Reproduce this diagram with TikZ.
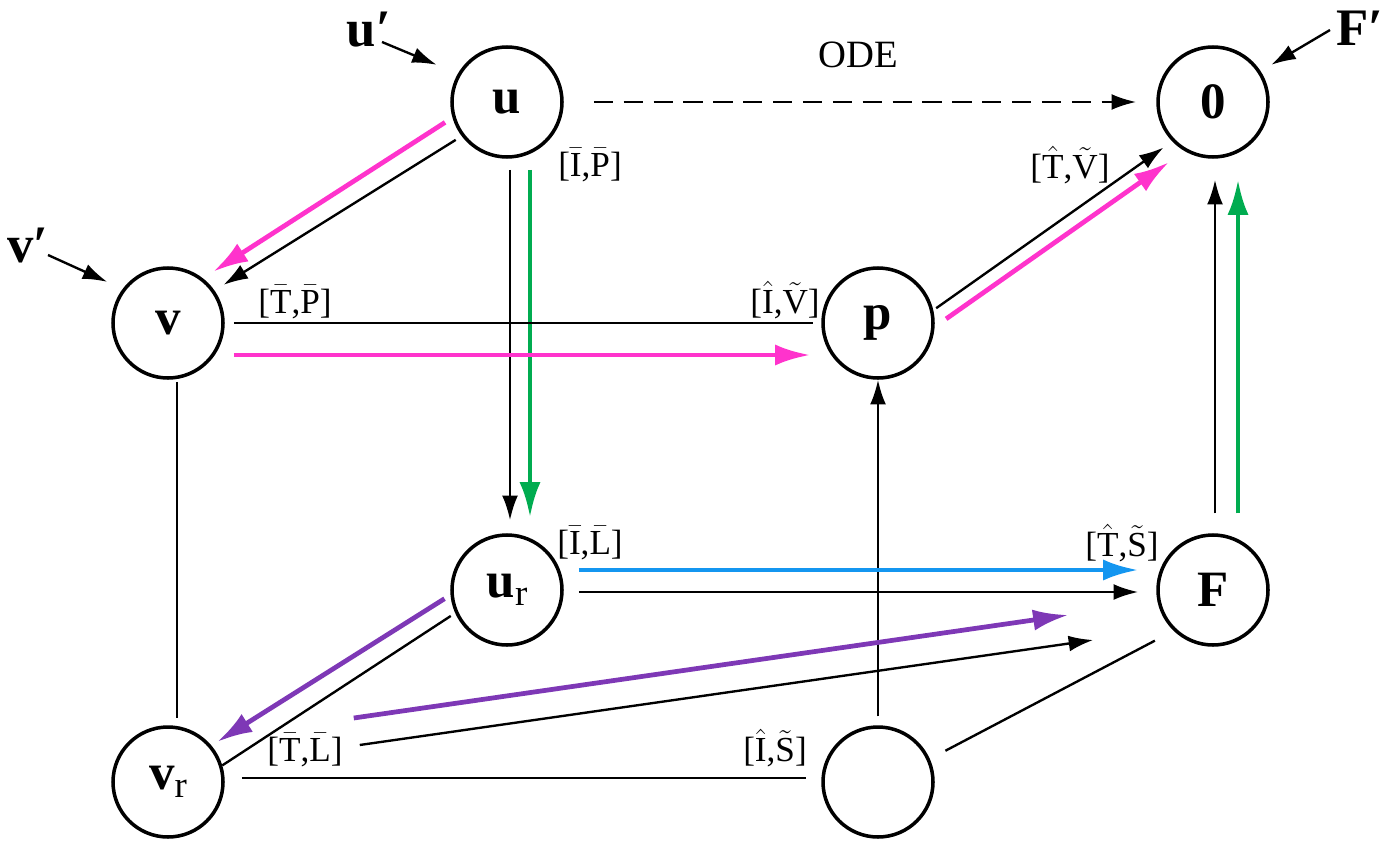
\documentclass[tikz,border=0pt]{standalone}
\usepackage{fontspec}
\setmainfont{Liberation Serif}
\usetikzlibrary{arrows.meta}

\definecolor{pinkarr}{RGB}{255,51,204}
\definecolor{greenarr}{RGB}{0,172,80}
\definecolor{bluearr}{RGB}{20,150,240}
\definecolor{purplearr}{RGB}{126,56,182}

\newcommand{\ab}[1]{$\bar{\mathrm{#1}}$}
\newcommand{\ah}[1]{$\hat{\mathrm{#1}}$}
\newcommand{\at}[1]{$\tilde{\mathrm{#1}}$}
\newcommand{\subidx}[1]{\raisebox{-0.35ex}{\mdseries\fontsize{21}{23}\selectfont #1}}

\begin{document}
\begin{tikzpicture}[
    state/.style={circle, draw, line width=2pt, minimum size=2.2cm, inner sep=0pt,
        font=\fontsize{29}{31}\selectfont\bfseries},
    link/.style={line width=1.35pt},
    blackarr/.style={link, -{Latex[length=14pt,width=9pt]}},
    colarr/.style={line width=2.7pt, -{Latex[length=20pt,width=12pt]}},
    lab/.style={font=\fontsize{20}{22}\selectfont},
    primelab/.style={font=\fontsize{30}{32}\selectfont\bfseries}
]
        \useasboundingbox (0,0) rectangle (27.72,-16.86);

        % Nodes of the cube
        \node[state] (u) at (10.14,-2.04) {u};
        \node[state] (zero) at (24.26,-2.04) {0};
        \node[state] (v) at (3.36,-6.46) {v};
        \node[state] (p) at (17.56,-6.46) {p};
        \node[state] (ur) at (10.14,-11.8) {u\subidx{r}};
        \node[state] (F) at (24.26,-11.8) {F};
        \node[state] (vr) at (3.36,-15.64) {v\subidx{r}};
        \node[state] (sw) at (17.56,-15.64) {};

        % Primed inputs
        \node[primelab] (uprime) at (7.38,-0.6) {u′};
        \node[primelab] (Fprime) at (27.2,-0.56) {F′};
        \node[primelab] (vprime) at (0.56,-4.9) {v′};
        \draw[blackarr, shorten >=13pt] ([shift={(0.26,-0.24)}]uprime.center) -- (u.150);
        \draw[blackarr, shorten >=7pt] ([shift={(-0.6,-0.04)}]Fprime.center) -- (zero.33);
        \draw[blackarr, shorten >=9.6pt] ([shift={(0.4,-0.2)}]vprime.center) -- (v.143);

        % ODE
        \draw[blackarr, dash pattern=on 11pt off 6pt] ([xshift=0.6cm]u.east) -- ([xshift=-0.4cm]zero.west);
        \node[lab, font=\fontsize{22}{24}\selectfont] (ode) at (17.16,-1.1) {ODE};

        % u to v
        \draw[blackarr, shorten <=4pt, shorten >=6pt] (u.217) -- (v.35);
        \draw[colarr, pinkarr, shorten <=5pt, shorten >=7pt] (u.196) -- (v.52);

        % u to u_r
        \draw[blackarr] ([shift={(0.06,-0.22)}]u.south) -- ([shift={(0.06,0.26)}]ur.north);
        \draw[colarr, greenarr] ([shift={(0.46,-0.22)}]u.south) -- ([shift={(0.46,0.32)}]ur.north);
        \node[lab] (lu) at (11.8,-3.3) {[\ab{I},\ab{P}]};

        % v to p
        \draw[link] ([xshift=0.18cm]v.east) -- ([xshift=-0.16cm]p.west);
        \draw[colarr, pinkarr] ([shift={(0.18,-0.64)}]v.east) -- ([shift={(-0.22,-0.64)}]p.west);
        \node[lab] (lv) at (5.9,-6.04) {[\ab{T},\ab{P}]};
        \node[lab] (lp) at (15.7,-6.0) {[\ah{I},\at{V}]};

        % p to 0
        \draw[blackarr, shorten <=2pt, shorten >=6pt] (p.13) -- (zero.224);
        \draw[colarr, pinkarr, shorten <=8pt, shorten >=11pt] (p.-4) -- (zero.240);
        \node[lab] (lzero) at (21.4,-3.3) {[\ah{T},\at{V}]};

        % v to v_r
        \draw[link] ([shift={(0.18,-0.04)}]v.south) -- ([shift={(0.18,0.14)}]vr.north);

        % F to 0
        \draw[blackarr] ([shift={(0.04,0.4)}]F.north) -- ([shift={(0.04,-0.42)}]zero.south);
        \draw[colarr, greenarr] ([shift={(0.5,0.4)}]F.north) -- ([shift={(0.5,-0.42)}]zero.south);

        % bottom right to p
        \draw[blackarr] ([yshift=0.18cm]sw.north) -- (p.south);

        % u_r to F
        \draw[blackarr] ([shift={(0.3,-0.04)}]ur.east) -- ([shift={(-0.36,-0.04)}]F.west);
        \draw[colarr, bluearr] ([shift={(0.3,0.4)}]ur.east) -- ([shift={(-0.36,0.4)}]F.west);
        \node[lab] (lur) at (11.8,-10.86) {[\ab{I},\ab{L}]};
        \node[lab] (lF) at (22.44,-10.86) {[\ah{T},\at{S}]};

        % u_r to v_r
        \draw[link, shorten <=3pt] (ur.204) -- (vr.17.5);
        \draw[colarr, purplearr, shorten <=4pt, shorten >=4pt] (ur.185) -- (vr.40);

        % v_r to F
        \draw[blackarr] ([shift={(2.7,0.74)}]vr.east) -- ([shift={(-1.26,-1.0)}]F.west);
        \draw[colarr, purplearr] ([shift={(2.58,1.28)}]vr.east) -- ([shift={(-1.76,-0.5)}]F.west);
        \node[lab] (lvr) at (6.1,-15.0) {[\ab{T},\ab{L}]};

        % v_r to bottom right, bottom right to F
        \draw[link] ([shift={(0.34,0.08)}]vr.east) -- ([shift={(-0.3,0.08)}]sw.west);
        \node[lab] (lsw) at (15.5,-14.96) {[\ah{I},\at{S}]};
        \draw[link, shorten <=10pt, shorten >=12pt] (sw.24) -- (F.226);

    \end{tikzpicture}
\end{document}
